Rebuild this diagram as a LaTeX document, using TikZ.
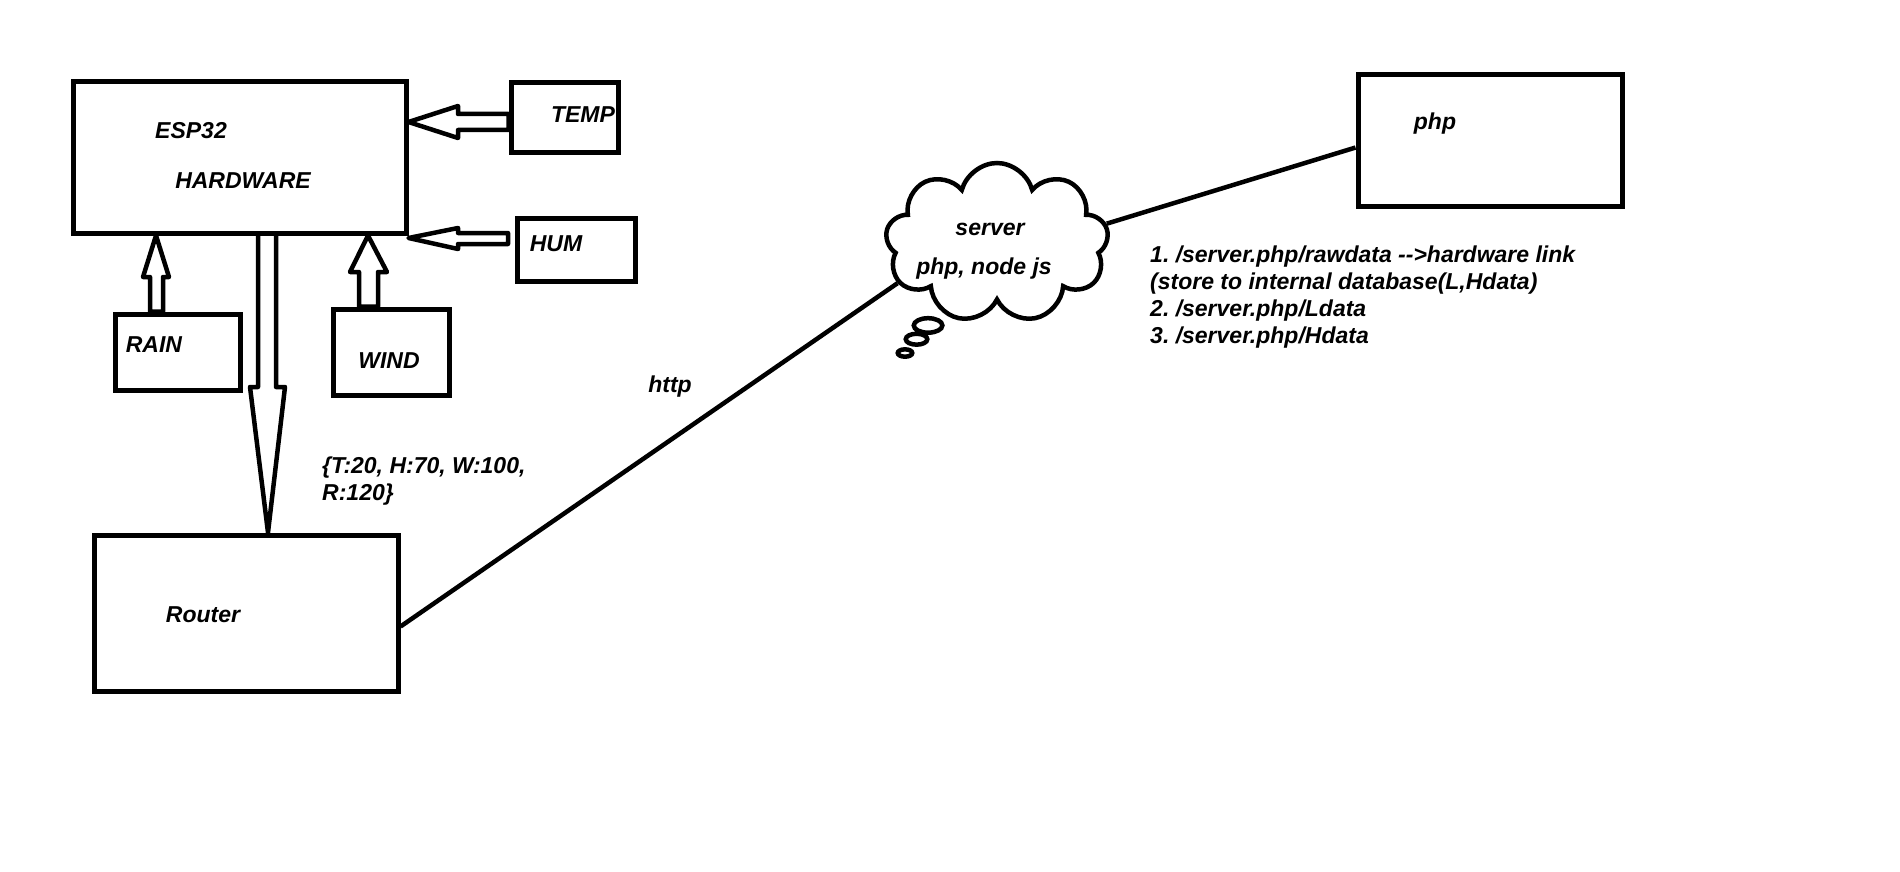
\documentclass[tikz,border=0pt]{standalone}
\usepackage{fontspec}
\setmainfont{Liberation Sans}
\usetikzlibrary{shapes.callouts}

\begin{document}
\begin{tikzpicture}[x=1pt,y=-1pt,
    box/.style={draw, line width=5pt, rectangle, inner sep=0pt},
    txt/.style={font=\bfseries\itshape\fontsize{23}{27}\selectfont\frenchspacing, inner sep=0pt, anchor=base},
    hollow/.style={draw, line width=4.5pt, line join=round},
    link/.style={draw, line width=4.5pt}]
    \fill[white] (0,0) rectangle (1900,872);
    \useasboundingbox (0,0) rectangle (1900,872);
    % boxes
    \node[box, minimum width=333pt, minimum height=151pt] (esp)    at (239.5,157.5) {};
    \node[box, minimum width=107pt, minimum height=69pt]  (temp)   at (564.5,117.5) {};
    \node[box, minimum width=118pt, minimum height=63pt]  (hum)    at (576,249.5) {};
    \node[box, minimum width=125pt, minimum height=76pt]  (rain)   at (177.5,352) {};
    \node[box, minimum width=116pt, minimum height=86pt]  (wind)   at (391,352) {};
    \node[box, minimum width=304pt, minimum height=156pt] (router) at (246,613) {};
    \node[box, minimum width=264pt, minimum height=131pt] (php)    at (1490,140.5) {};
    \node[cloud callout, draw, line width=4.5pt, cloud puffs=9, aspect=1.4,
          minimum width=223pt, minimum height=160pt,
          callout absolute pointer={(905,353)}, callout pointer segments=3,
          callout pointer start size=.16 of callout,
          callout pointer end size=.065 of callout] (cloud) at (997,243) {};
    % labels
    \node[txt] (esptxt)    at (191,139) {ESP32};
    \node[txt] (hwtxt)     at (243,188) {HARDWARE};
    \node[txt] (temptxt)   at (583,123) {TEMP};
    \node[txt] (humtxt)    at (556,251) {HUM};
    \node[txt] (raintxt)   at (154,352) {RAIN};
    \node[txt] (windtxt)   at (389,368) {WIND};
    \node[txt] (routertxt) at (203,622) {Router};
    \node[txt] (phptxt)    at (1435,130) {php};
    \node[txt] (srvtxt)    at (990,235) {server};
    \node[txt] (stacktxt)  at (984,274) {php, node js};
    \node[txt] (httptxt)   at (670,392) {http};
    \node[txt, align=left, anchor=north west] (payload) at (322,457)
        {\{T:20, H:70, W:100,\\R:120\}};
    \node[txt, align=left, anchor=north west] (routes) at (1150,246)
        {1. /server.php/rawdata -{}-{}>hardware link\\(store to internal database(L,Hdata)\\2. /server.php/Ldata\\3. /server.php/Hdata};
    % sensor arrows
    \draw[hollow] (esp.east |- 0,122) -- (458,106) -- (458,114) -- (temp.west |- 0,114)
        -- (temp.west |- 0,130) -- (458,130) -- (458,138) -- cycle;
    \draw[hollow] (esp.east |- 0,238) -- (458,228) -- (458,233) -- (508,233)
        -- (508,244) -- (458,244) -- (458,249) -- cycle;
    \draw[hollow] (esp.south -| 156,0) -- (169,277) -- (163,277) -- (rain.north -| 163,0)
        -- (rain.north -| 150,0) -- (150,277) -- (143,277) -- cycle;
    \draw[hollow] (esp.south -| 368,0) -- (387,272) -- (378,272) -- (wind.north -| 378,0)
        -- (wind.north -| 359,0) -- (359,272) -- (350,272) -- cycle;
    \draw[hollow] (esp.south -| 258,0) -- (258,387) -- (250,387) -- (router.north -| 268,0)
        -- (285,387) -- (276,387) -- (esp.south -| 276,0);
    % links
    \draw[link] (router.-5) -- (cloud.202);
    \draw[link] (cloud.10) -- (php.183);
\end{tikzpicture}
\end{document}
